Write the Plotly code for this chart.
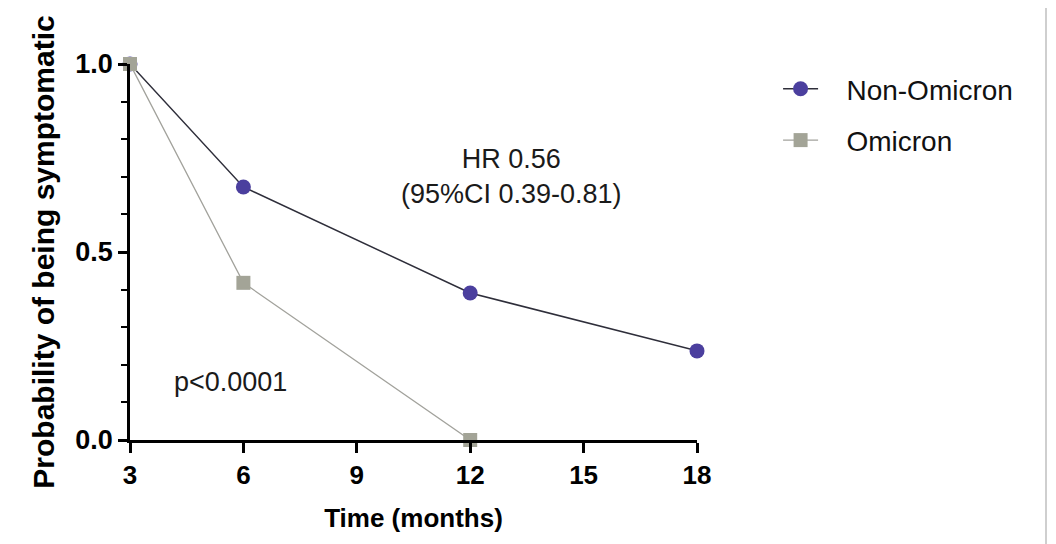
import plotly.graph_objects as go

time_non = [3, 6, 12, 18]
prob_non = [1.0, 0.673, 0.391, 0.237]
time_omi = [3, 6, 12]
prob_omi = [1.0, 0.418, 0.0]
x_ticks = [3, 6, 9, 12, 15, 18]
y_ticks = [0.0, 0.5, 1.0]
y_tick_labels = ["0.0", "0.5", "1.0"]
y_minor = [0.1, 0.2, 0.3, 0.4, 0.6, 0.7, 0.8, 0.9]

FONT = "Liberation Sans, Arial, sans-serif"
GAP = "\u00a0\u00a0\u00a0"

fig = go.Figure()
fig.add_trace(go.Scatter(
    x=time_non, y=prob_non, name=GAP + "Non-Omicron", mode="lines+markers",
    line=dict(color="#2e2e3a", width=1.5),
    marker=dict(symbol="circle", size=15, color="#4b3f9e"),
    cliponaxis=False, legendgroup="a"))
fig.add_trace(go.Scatter(
    x=time_omi, y=prob_omi, name=GAP + "Omicron", mode="lines+markers",
    line=dict(color="#a2a29c", width=1.3),
    marker=dict(symbol="square", size=14, color="#a3a497"),
    cliponaxis=False, legendgroup="b"))

fig.add_annotation(x=13.1, y=0.70, xref="x", yref="y",
                   text="HR 0.56<br>(95%CI 0.39-0.81)", showarrow=False,
                   font=dict(family=FONT, size=27, color="#1a1a1a"), align="center")
fig.add_annotation(x=5.67, y=0.154, xref="x", yref="y",
                   text="p<0.0001", showarrow=False,
                   font=dict(family=FONT, size=27, color="#1a1a1a"))

fig.add_shape(type="line", xref="paper", yref="paper",
              x0=(1046 - 130) / 567, x1=(1046 - 130) / 567, y0=-0.3, y1=1.2,
              line=dict(color="#cfcfcf", width=2))

fig.update_layout(
    width=1056, height=544,
    margin=dict(l=122, r=367, t=56, b=112),
    paper_bgcolor="white", plot_bgcolor="white",
    font=dict(family=FONT, color="#111"),
    showlegend=True,
    legend=dict(x=1.143, y=1.0, xanchor="left", yanchor="top",
                font=dict(family=FONT, size=28, color="#111"),
                tracegroupgap=12, itemwidth=35, bgcolor="rgba(0,0,0,0)"),
    xaxis=dict(range=[3, 18], tickvals=x_ticks, ticktext=[str(v) for v in x_ticks],
               showgrid=False, zeroline=False, showline=True, linecolor="black",
               linewidth=2.5, ticks="outside", ticklen=10, tickwidth=2.5,
               tickcolor="black", tickfont=dict(family=FONT, size=26, color="black", weight="bold"),
               title=dict(text="<b>Time (months)</b>", font=dict(family=FONT, size=26, color="black"),
                          standoff=20)),
    yaxis=dict(range=[0, 1], tickvals=y_ticks, ticktext=y_tick_labels,
               showgrid=False, zeroline=False, showline=True, linecolor="black",
               linewidth=2.5, ticks="outside", ticklen=9, tickwidth=2.5,
               tickcolor="black", tickfont=dict(family=FONT, size=27, color="black", weight="bold"),
               minor=dict(tickvals=y_minor, ticks="outside",
                          ticklen=6, tickwidth=2, tickcolor="black", showgrid=False),
               title=dict(text="<b>Probability of being symptomatic</b>",
                          font=dict(family=FONT, size=30, color="black"), standoff=12)),
)

fig.write_html("out.html")
